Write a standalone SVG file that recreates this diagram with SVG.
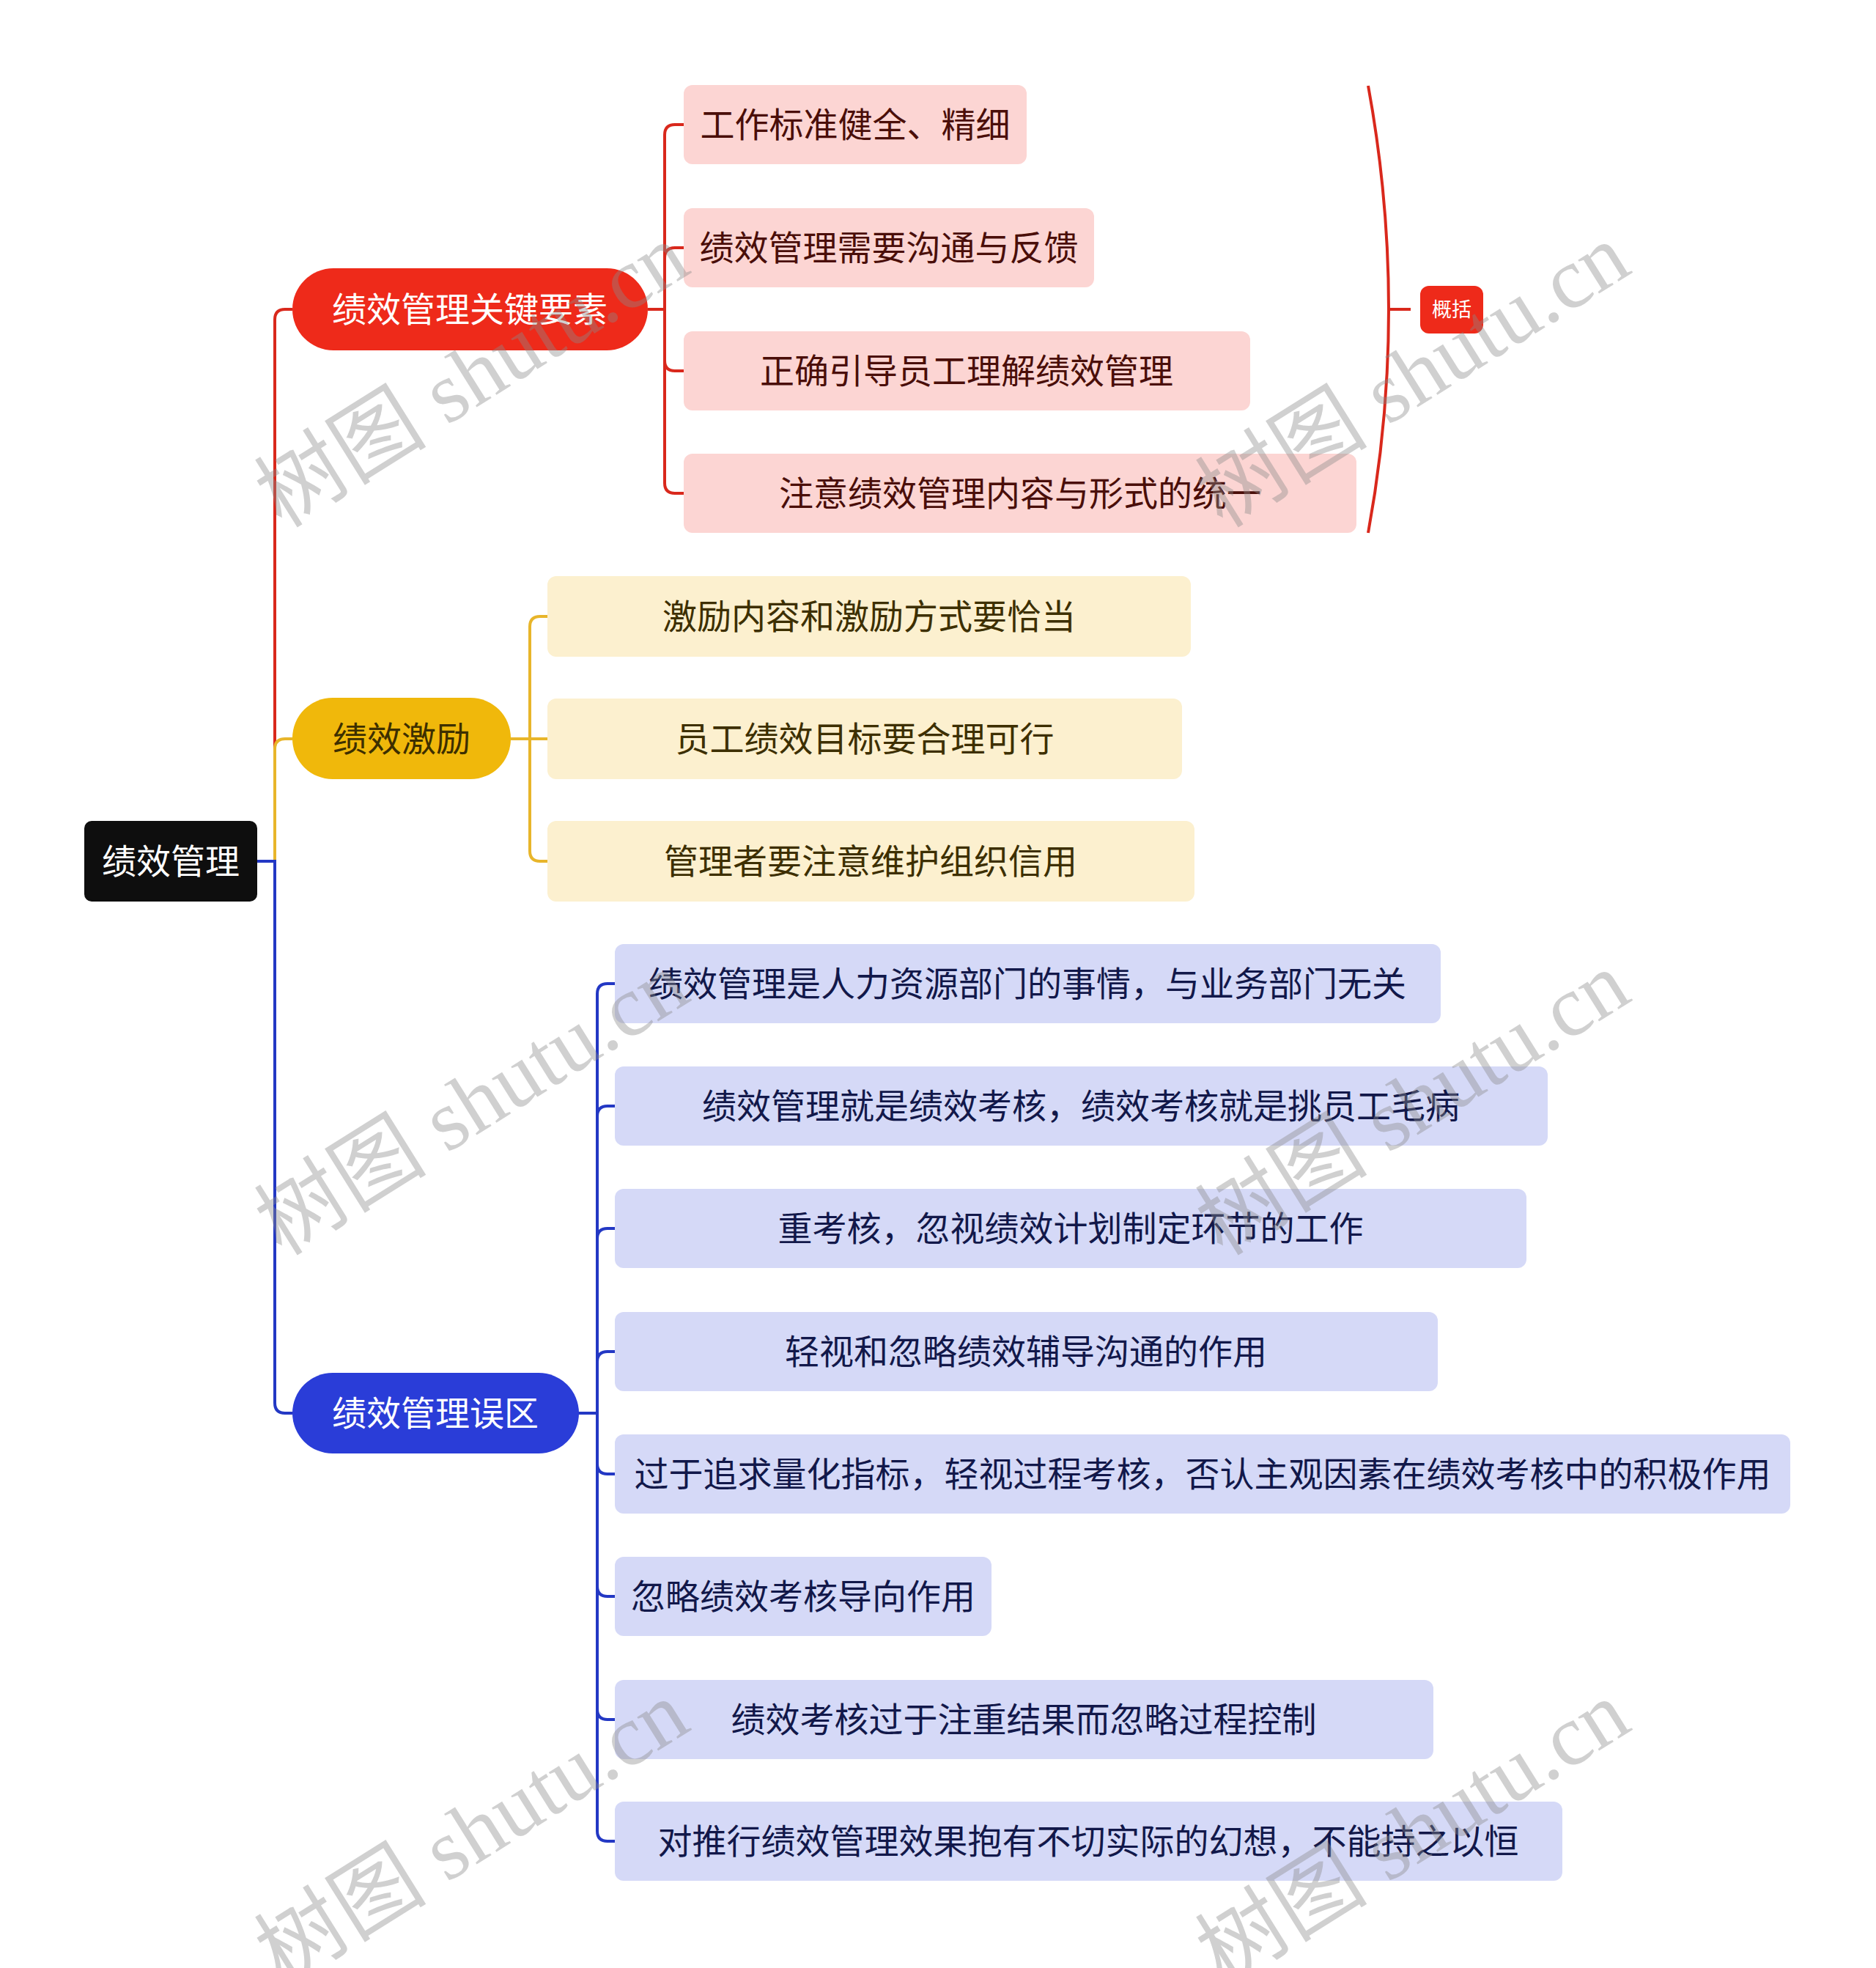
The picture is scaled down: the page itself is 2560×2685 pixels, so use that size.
<svg xmlns="http://www.w3.org/2000/svg" width="2560" height="2685" viewBox="0 0 2560 2685">
<style>
text{font-family:"Noto Sans CJK SC","Noto Sans",sans-serif;text-anchor:middle}
.t{font-size:47px}
.w{fill:#ffffff}
.rc{fill:#FCD5D3}
.yc{fill:#FCF0CF}
.bc{fill:#D5D9F7}
.rt{fill:#4A0E09}
.yt{fill:#3D2F00}
.bt{fill:#12184A}
.cr{fill:none;stroke:#D9281C;stroke-width:4}
.cy{fill:none;stroke:#E8B52A;stroke-width:4}
.cb{fill:none;stroke:#2338C4;stroke-width:4}
.wm{font-family:"Liberation Serif","Noto Sans CJK SC",serif;font-size:118px;fill:#8a8a8a;fill-opacity:0.4}
</style>
<rect width="2560" height="2685" fill="#ffffff"/>
<g id="connectors">
<path class="cr" d="M351,1175 H375 V436 Q375,422 389,422 H399"/>
<path class="cy" d="M351,1175 H375 V1022 Q375,1008 389,1008 H399"/>
<path class="cb" d="M351,1175 H375 V1914 Q375,1928 389,1928 H399"/>
<path class="cr" d="M884,422 H907 V184 Q907,170 921,170 H933"/>
<path class="cr" d="M884,422 H907 V352 Q907,338 921,338 H933"/>
<path class="cr" d="M884,422 H907 V492 Q907,506 921,506 H933"/>
<path class="cr" d="M884,422 H907 V659 Q907,673 921,673 H933"/>
<path class="cy" d="M697,1008 H723 V855 Q723,841 737,841 H747"/>
<path class="cy" d="M697,1008 H747"/>
<path class="cy" d="M697,1008 H723 V1161 Q723,1175 737,1175 H747"/>
<path class="cb" d="M789,1928 H815 V1356 Q815,1342 829,1342 H839"/>
<path class="cb" d="M789,1928 H815 V1523 Q815,1509 829,1509 H839"/>
<path class="cb" d="M789,1928 H815 V1690 Q815,1676 829,1676 H839"/>
<path class="cb" d="M789,1928 H815 V1858 Q815,1844 829,1844 H839"/>
<path class="cb" d="M789,1928 H815 V1997 Q815,2011 829,2011 H839"/>
<path class="cb" d="M789,1928 H815 V2164 Q815,2178 829,2178 H839"/>
<path class="cb" d="M789,1928 H815 V2332 Q815,2346 829,2346 H839"/>
<path class="cb" d="M789,1928 H815 V2498 Q815,2512 829,2512 H839"/>
<path class="cr" d="M1867,117 Q1923,422 1867,727"/>
<path class="cr" d="M1895,422 H1925"/>
</g>
<g id="root"><rect x="115" y="1120" width="236" height="110" rx="10" fill="#0E0E0E"/><text class="t w" x="233" y="1192">绩效管理</text></g>
<g id="n1"><rect x="399" y="366" width="485" height="112" rx="56" fill="#EE2A1A"/><text class="t w" x="641" y="439">绩效管理关键要素</text></g>
<g id="n1a"><rect class="rc" x="933" y="116" width="468" height="108" rx="12"/><text class="t rt" x="1167" y="187">工作标准健全、精细</text></g>
<g id="n1b"><rect class="rc" x="933" y="284" width="560" height="108" rx="12"/><text class="t rt" x="1213" y="355">绩效管理需要沟通与反馈</text></g>
<g id="n1c"><rect class="rc" x="933" y="452" width="773" height="108" rx="12"/><text class="t rt" x="1319" y="523">正确引导员工理解绩效管理</text></g>
<g id="n1d"><rect class="rc" x="933" y="619" width="918" height="108" rx="12"/><text class="t rt" x="1392" y="690">注意绩效管理内容与形式的统一</text></g>
<g id="summary"><rect x="1938" y="390" width="86" height="65" rx="12" fill="#EE2A1A"/><text x="1981" y="432" font-size="27" class="w">概括</text></g>
<g id="n2"><rect x="399" y="952" width="298" height="111" rx="55" fill="#F0B80B"/><text class="t yt" x="548" y="1025">绩效激励</text></g>
<g id="n2a"><rect class="yc" x="747" y="786" width="878" height="110" rx="12"/><text class="t yt" x="1186" y="858">激励内容和激励方式要恰当</text></g>
<g id="n2b"><rect class="yc" x="747" y="953" width="866" height="110" rx="12"/><text class="t yt" x="1180" y="1025">员工绩效目标要合理可行</text></g>
<g id="n2c"><rect class="yc" x="747" y="1120" width="883" height="110" rx="12"/><text class="t yt" x="1188" y="1192">管理者要注意维护组织信用</text></g>
<g id="n3"><rect x="399" y="1873" width="391" height="110" rx="55" fill="#2A3DD8"/><text class="t w" x="594" y="1945">绩效管理误区</text></g>
<g id="n3a"><rect class="bc" x="839" y="1288" width="1127" height="108" rx="12"/><text class="t bt" x="1402" y="1359">绩效管理是人力资源部门的事情，与业务部门无关</text></g>
<g id="n3b"><rect class="bc" x="839" y="1455" width="1273" height="108" rx="12"/><text class="t bt" x="1475" y="1526">绩效管理就是绩效考核，绩效考核就是挑员工毛病</text></g>
<g id="n3c"><rect class="bc" x="839" y="1622" width="1244" height="108" rx="12"/><text class="t bt" x="1461" y="1693">重考核，忽视绩效计划制定环节的工作</text></g>
<g id="n3d"><rect class="bc" x="839" y="1790" width="1123" height="108" rx="12"/><text class="t bt" x="1400" y="1861">轻视和忽略绩效辅导沟通的作用</text></g>
<g id="n3e"><rect class="bc" x="839" y="1957" width="1604" height="108" rx="12"/><text class="t bt" x="1641" y="2028">过于追求量化指标，轻视过程考核，否认主观因素在绩效考核中的积极作用</text></g>
<g id="n3f"><rect class="bc" x="839" y="2124" width="514" height="108" rx="12"/><text class="t bt" x="1096" y="2195">忽略绩效考核导向作用</text></g>
<g id="n3g"><rect class="bc" x="839" y="2292" width="1117" height="108" rx="12"/><text class="t bt" x="1397" y="2363">绩效考核过于注重结果而忽略过程控制</text></g>
<g id="n3h"><rect class="bc" x="839" y="2458" width="1293" height="108" rx="12"/><text class="t bt" x="1485" y="2529">对推行绩效管理效果抱有不切实际的幻想，不能持之以恒</text></g>
<g id="watermarks">
<text class="wm" transform="translate(645,514) rotate(-32)" y="38">树图 shutu.cn</text>
<text class="wm" transform="translate(1929,514) rotate(-32)" y="38">树图 shutu.cn</text>
<text class="wm" transform="translate(645,1507) rotate(-32)" y="38">树图 shutu.cn</text>
<text class="wm" transform="translate(1929,1507) rotate(-32)" y="38">树图 shutu.cn</text>
<text class="wm" transform="translate(645,2502) rotate(-32)" y="38">树图 shutu.cn</text>
<text class="wm" transform="translate(1929,2502) rotate(-32)" y="38">树图 shutu.cn</text>
</g>
</svg>
